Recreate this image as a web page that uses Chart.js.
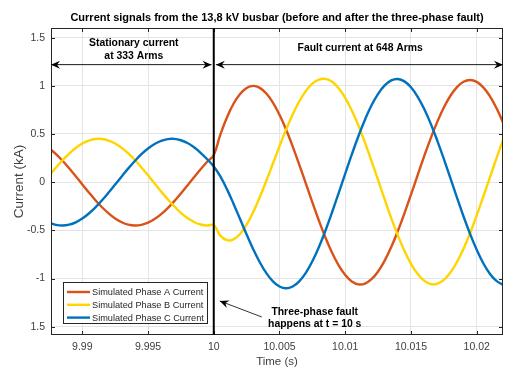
<!DOCTYPE html>
<html>
<head>
<meta charset="utf-8">
<script src="https://cdn.jsdelivr.net/npm/chart.js@4/dist/chart.umd.min.js"></script>
<style>
  html, body { margin: 0; padding: 0; background: #ffffff; }
  canvas { display: block; }
</style>
</head>
<body>
<canvas id="c" width="505" height="374"></canvas>
<script>
// ---------- data ----------
const times = [9.9875, 9.9880, 9.9885, 9.9890, 9.9895, 9.9900, 9.9905, 9.9910, 9.9915, 9.9920,
  9.9925, 9.9930, 9.9935, 9.9940, 9.9945, 9.9950, 9.9955, 9.9960, 9.9965, 9.9970,
  9.9975, 9.9980, 9.9985, 9.9990, 9.9995, 10.0000, 10.0005, 10.0010, 10.0015, 10.0020,
  10.0025, 10.0030, 10.0035, 10.0040, 10.0045, 10.0050, 10.0055, 10.0060, 10.0065, 10.0070,
  10.0075, 10.0080, 10.0085, 10.0090, 10.0095, 10.0100, 10.0105, 10.0110, 10.0115, 10.0120,
  10.0125, 10.0130, 10.0135, 10.0140, 10.0145, 10.0150, 10.0155, 10.0160, 10.0165, 10.0170,
  10.0175, 10.0180, 10.0185, 10.0190, 10.0195, 10.0200, 10.0205, 10.0210, 10.0215, 10.0220];

const phaseA = [0.350, 0.291, 0.222, 0.144, 0.062, -0.023, -0.107, -0.187, -0.260, -0.324,
  -0.377, -0.416, -0.441, -0.450, -0.443, -0.420, -0.383, -0.332, -0.269, -0.197,
  -0.117, -0.034, 0.051, 0.134, 0.212, 0.283, 0.494, 0.672, 0.814, 0.916,
  0.978, 0.999, 0.979, 0.920, 0.826, 0.699, 0.546, 0.372, 0.183, -0.013,
  -0.210, -0.400, -0.576, -0.732, -0.863, -0.963, -1.030, -1.060, -1.052, -1.007,
  -0.927, -0.814, -0.673, -0.507, -0.324, -0.129, 0.070, 0.267, 0.455, 0.626,
  0.775, 0.897, 0.987, 1.042, 1.060, 1.041, 0.984, 0.893, 0.770, 0.620];

const phaseB = [0.070, 0.152, 0.228, 0.297, 0.355, 0.401, 0.432, 0.448, 0.448, 0.432,
  0.401, 0.356, 0.298, 0.230, 0.153, 0.071, -0.013, -0.097, -0.178, -0.252,
  -0.318, -0.372, -0.413, -0.439, -0.450, -0.445, -0.555, -0.602, -0.594, -0.538,
  -0.441, -0.311, -0.156, 0.015, 0.194, 0.373, 0.545, 0.702, 0.837, 0.945,
  1.023, 1.065, 1.072, 1.042, 0.975, 0.875, 0.744, 0.588, 0.411, 0.219,
  0.021, -0.179, -0.373, -0.552, -0.712, -0.847, -0.951, -1.022, -1.057, -1.054,
  -1.014, -0.938, -0.828, -0.690, -0.527, -0.345, -0.151, 0.048, 0.246, 0.435];

const phaseC = [-0.420, -0.443, -0.450, -0.441, -0.417, -0.378, -0.325, -0.261, -0.188, -0.108,
  -0.024, 0.060, 0.143, 0.220, 0.290, 0.349, 0.396, 0.429, 0.447, 0.449,
  0.435, 0.406, 0.362, 0.305, 0.238, 0.162, 0.060, -0.072, -0.223, -0.383,
  -0.543, -0.695, -0.831, -0.944, -1.029, -1.083, -1.101, -1.083, -1.029, -0.941,
  -0.820, -0.672, -0.501, -0.312, -0.113, 0.089, 0.288, 0.477, 0.648, 0.798,
  0.917, 1.004, 1.056, 1.070, 1.046, 0.985, 0.889, 0.762, 0.608, 0.432,
  0.241, 0.041, -0.160, -0.356, -0.538, -0.702, -0.841, -0.950, -1.025, -1.065];

const seriesNames = ['Simulated Phase A Current', 'Simulated Phase B Current', 'Simulated Phase C Current'];
const xTickValues = [9.99, 9.995, 10, 10.005, 10.01, 10.015, 10.02];
const xTickLabels = ['9.99', '9.995', '10', '10.005', '10.01', '10.015', '10.02'];
const yTickValues = [-1.5, -1, -0.5, 0, 0.5, 1, 1.5];
const yTickLabels = ['1.5', '-1', '-0.5', '0', '0.5', '1', '1.5'];
const faultTime = 10;
const chartTitle = 'Current signals from the 13,8 kV busbar (before and after the three-phase fault)';
const stationaryText = ['Stationary current', 'at 333 Arms'];
const faultText = 'Fault current at 648 Arms';
const eventText = ['Three-phase fault', 'happens at t = 10 s'];

// ---------- styling ----------
const FONT = "'Liberation Sans', Arial, Helvetica, sans-serif";
const COLORS = ['#D95319', '#FFD500', '#0072BD'];
const AXIS = '#262626';
const TEXT = '#404040';

const pts = ys => times.map((t, i) => ({ x: t, y: ys[i] }));

function arrowHead(ctx, tx, ty, ang, L, W, N) {
  ctx.save();
  ctx.translate(tx, ty);
  ctx.rotate(ang);
  ctx.beginPath();
  ctx.moveTo(0, 0);
  ctx.lineTo(-L, -W);
  ctx.lineTo(-N, 0);
  ctx.lineTo(-L, W);
  ctx.closePath();
  ctx.fill();
  ctx.restore();
}

const deco = {
  id: 'deco',
  afterDatasetsDraw(chart) {
    const { ctx, chartArea: a, scales: { x, y } } = chart;
    ctx.save();

    // inward tick marks on all four sides
    ctx.strokeStyle = AXIS;
    ctx.lineWidth = 1;
    ctx.beginPath();
    x.ticks.forEach(t => {
      const px = Math.round(x.getPixelForValue(t.value)) + 0.5;
      ctx.moveTo(px, a.bottom); ctx.lineTo(px, a.bottom - 4);
      ctx.moveTo(px, a.top); ctx.lineTo(px, a.top + 4);
    });
    y.ticks.forEach(t => {
      const py = Math.round(y.getPixelForValue(t.value)) + 0.5;
      ctx.moveTo(a.left, py); ctx.lineTo(a.left + 4, py);
      ctx.moveTo(a.right, py); ctx.lineTo(a.right - 4, py);
    });
    ctx.stroke();

    // axes box
    ctx.strokeRect(a.left + 0.5, a.top + 0.5, a.right - a.left - 1, a.bottom - a.top - 1);

    // fault instant line
    const fx = x.getPixelForValue(faultTime);
    ctx.strokeStyle = '#000';
    ctx.lineWidth = 2;
    ctx.beginPath();
    ctx.moveTo(fx, a.top); ctx.lineTo(fx, a.bottom);
    ctx.stroke();

    // double arrows
    const ay = y.getPixelForValue(1.225);
    const x1a = a.left, x1b = x.getPixelForValue(9.99983);
    const x2a = x.getPixelForValue(10.00016), x2b = a.right;
    ctx.strokeStyle = '#1a1a1a';
    ctx.fillStyle = '#000';
    ctx.lineWidth = 1;
    ctx.beginPath();
    ctx.moveTo(x1a, ay + 0.5); ctx.lineTo(x1b, ay + 0.5);
    ctx.moveTo(x2a, ay + 0.5); ctx.lineTo(x2b, ay + 0.5);
    ctx.stroke();
    arrowHead(ctx, x1a, ay + 0.5, Math.PI, 9, 4, 6);
    arrowHead(ctx, x1b, ay + 0.5, 0, 9, 4, 6);
    arrowHead(ctx, x2a, ay + 0.5, Math.PI, 9, 4, 6);
    arrowHead(ctx, x2b, ay + 0.5, 0, 9, 4, 6);

    // annotation texts
    ctx.fillStyle = '#000';
    ctx.font = 'bold 10.4px ' + FONT;
    ctx.textAlign = 'center';
    ctx.textBaseline = 'middle';
    const sx = x.getPixelForValue(9.99392);
    ctx.fillText(stationaryText[0], sx, y.getPixelForValue(1.448));
    ctx.fillText(stationaryText[1], sx, y.getPixelForValue(1.310));
    ctx.fillText(faultText, x.getPixelForValue(10.01114), y.getPixelForValue(1.39));
    const ex = x.getPixelForValue(10.00768);
    ctx.fillText(eventText[0], ex, y.getPixelForValue(-1.344));
    ctx.fillText(eventText[1], ex, y.getPixelForValue(-1.472));

    // pointer arrow to the fault line
    const tx0 = x.getPixelForValue(10.00365), ty0 = y.getPixelForValue(-1.399);
    const tx1 = x.getPixelForValue(10.00046), ty1 = y.getPixelForValue(-1.233);
    ctx.strokeStyle = '#333';
    ctx.lineWidth = 1;
    ctx.beginPath();
    ctx.moveTo(tx0, ty0); ctx.lineTo(tx1, ty1);
    ctx.stroke();
    ctx.fillStyle = '#000';
    arrowHead(ctx, tx1, ty1, Math.atan2(ty1 - ty0, tx1 - tx0), 9, 4, 6);

    // legend box
    const lx = a.left + 12, lw = 144, lh = 41;
    const ly = a.bottom - 12 - lh;
    ctx.fillStyle = '#fff';
    ctx.fillRect(lx, ly, lw, lh);
    ctx.strokeStyle = AXIS;
    ctx.lineWidth = 1;
    ctx.strokeRect(lx + 0.5, ly + 0.5, lw, lh);
    ctx.font = '9.2px ' + FONT;
    ctx.textAlign = 'left';
    ctx.textBaseline = 'middle';
    chart.data.datasets.forEach((ds, i) => {
      const ry = ly + 10 + i * 12.8;
      ctx.strokeStyle = ds.borderColor;
      ctx.lineWidth = 2.4;
      ctx.beginPath();
      ctx.moveTo(lx + 4, ry); ctx.lineTo(lx + 27, ry);
      ctx.stroke();
      ctx.fillStyle = AXIS;
      ctx.fillText(ds.label, lx + 29, ry + 0.5);
    });

    ctx.restore();
  },
  afterDraw(chart) {
    const { ctx, chartArea: a } = chart;
    ctx.save();
    ctx.fillStyle = '#000';
    ctx.font = 'bold 11px ' + FONT;
    ctx.textAlign = 'center';
    ctx.textBaseline = 'middle';
    ctx.fillText(chartTitle, (a.left + a.right) / 2, 18);
    ctx.restore();
  }
};

new Chart(document.getElementById('c').getContext('2d'), {
  type: 'line',
  data: {
    datasets: [
      { label: seriesNames[0], data: pts(phaseA), borderColor: COLORS[0], order: 2 },
      { label: seriesNames[1], data: pts(phaseB), borderColor: COLORS[1], order: 1 },
      { label: seriesNames[2], data: pts(phaseC), borderColor: COLORS[2], order: 0 }
    ]
  },
  options: {
    responsive: false,
    animation: false,
    devicePixelRatio: 1,
    elements: {
      point: { radius: 0, hoverRadius: 0 },
      line: { borderWidth: 2.4, tension: 0.4, fill: false, borderCapStyle: 'round' }
    },
    layout: { padding: { top: 28, right: 2, left: 0, bottom: 0 } },
    plugins: { legend: { display: false }, title: { display: false }, tooltip: { enabled: false } },
    scales: {
      x: {
        type: 'linear',
        min: 9.98762,
        max: 10.022,
        afterBuildTicks: s => { s.ticks = xTickValues.map(v => ({ value: v })); },
        afterFit: s => { s.height = 39; },
        grid: { color: '#e4e4e4', lineWidth: 1, drawTicks: false },
        border: { display: false },
        ticks: {
          padding: 6, color: TEXT, autoSkip: false, maxRotation: 0,
          font: { family: FONT, size: 10.5 },
          callback: v => {
            const i = xTickValues.findIndex(t => Math.abs(t - v) < 1e-9);
            return i >= 0 ? xTickLabels[i] : '';
          }
        },
        title: { display: true, text: 'Time (s)', color: TEXT, font: { family: FONT, size: 11.5 }, padding: { top: 0, bottom: 5 } }
      },
      y: {
        type: 'linear',
        min: -1.586,
        max: 1.6,
        afterBuildTicks: s => { s.ticks = yTickValues.map(v => ({ value: v })); },
        afterFit: s => { s.width = 51; },
        grid: { color: '#e4e4e4', lineWidth: 1, drawTicks: false },
        border: { display: false },
        ticks: {
          padding: 6, color: TEXT, autoSkip: false,
          font: { family: FONT, size: 10.5 },
          callback: v => {
            const i = yTickValues.findIndex(t => Math.abs(t - v) < 1e-9);
            return i >= 0 ? yTickLabels[i] : '';
          }
        },
        title: { display: true, text: 'Current (kA)', color: TEXT, font: { family: FONT, size: 13.5 }, padding: { top: 11, bottom: 0 } }
      }
    }
  },
  plugins: [deco]
});
</script>
</body>
</html>
